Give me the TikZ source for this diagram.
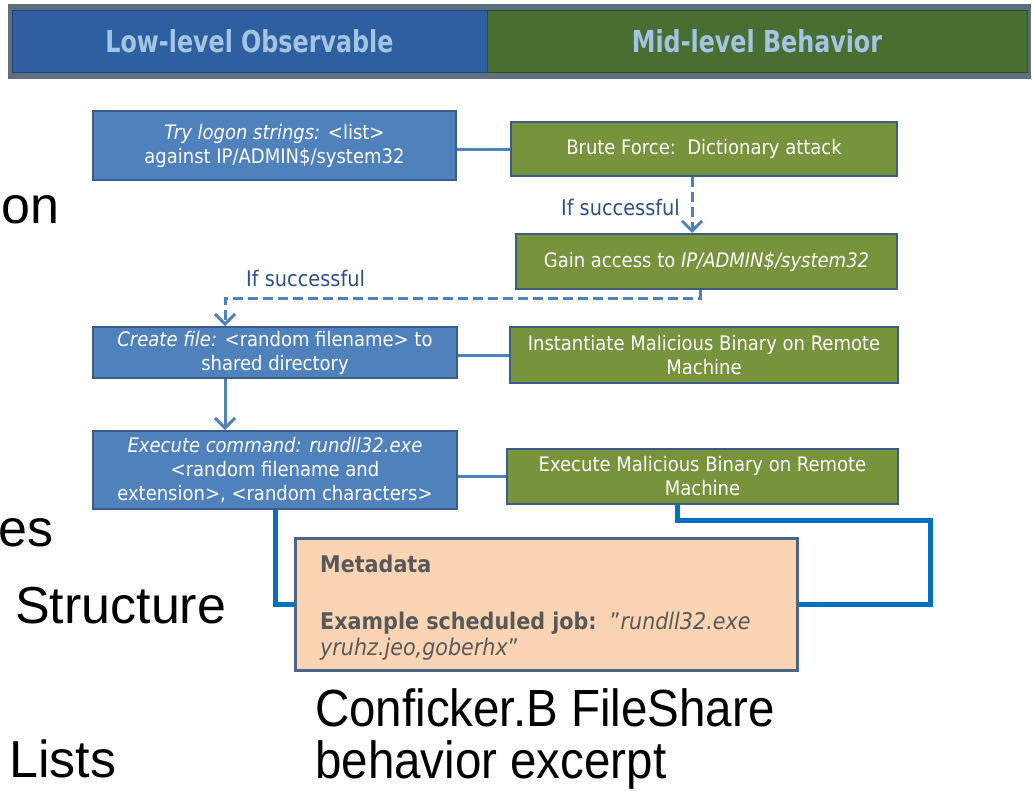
\documentclass[tikz,border=0pt]{standalone}
\usepackage{fontspec}
\setmainfont{DejaVu Sans Condensed}
\newfontfamily\slidefont{Liberation Sans}
\usetikzlibrary{arrows.meta,calc}

\definecolor{hdrblue}{HTML}{2E60A1}
\definecolor{hdrgreen}{HTML}{486E32}
\definecolor{hdrframe}{HTML}{5E6F80}
\definecolor{hdrtext}{HTML}{A3C5E3}
\definecolor{obsfill}{HTML}{4F81BD}
\definecolor{obsedge}{HTML}{385D8A}
\definecolor{behfill}{HTML}{77933C}
\definecolor{behedge}{HTML}{3C5E86}
\definecolor{linkblue}{HTML}{4F81BD}
\definecolor{flowblue}{HTML}{0070C0}
\definecolor{metafill}{HTML}{FBD4B4}
\definecolor{metaedge}{HTML}{4A6586}
\definecolor{metatext}{HTML}{595959}
\definecolor{labeltext}{HTML}{2C5087}

\newcommand{\dq}{\symbol{"22}}

\tikzset{
  obsbox/.style={draw=obsedge, line width=2pt, fill=obsfill, text=white,
    inner sep=0pt, align=center, font=\fontsize{20}{24}\selectfont},
  behbox/.style={draw=behedge, line width=2pt, fill=behfill, text=white,
    inner sep=0pt, align=center, font=\fontsize{20}{24}\selectfont},
  hdrcell/.style={inner sep=0pt, text=hdrtext,
    font=\fontsize{27}{30}\selectfont\bfseries},
  link/.style={draw=linkblue, line width=3pt},
  dashlink/.style={draw=linkblue, line width=3pt, dash pattern=on 10pt off 5pt,
    -{Straight Barb[length=10pt,width=20pt,line width=3pt]}},
  solidarrow/.style={draw=linkblue, line width=3pt,
    -{Straight Barb[length=10pt,width=20pt,line width=3pt]}},
  flowline/.style={draw=flowblue, line width=5pt},
  condlabel/.style={text=labeltext, inner sep=0pt, font=\fontsize{21.5}{24}\selectfont},
  slidetext/.style={inner sep=0pt, anchor=base west, font=\slidefont\fontsize{52}{56}\selectfont},
  captext/.style={inner sep=0pt, anchor=base west, font=\slidefont\fontsize{47.5}{50}\selectfont},
  metaline/.style={inner sep=0pt, anchor=base west, text=metatext,
    font=\fontsize{23}{27}\selectfont},
}

\begin{document}
\begin{tikzpicture}[x=1pt, y=-1pt]
\useasboundingbox (0,0) rectangle (1032,790);
\clip (0,0) rectangle (1032,790);

% header bar
\node[draw=hdrframe, fill=hdrframe, line width=1pt, minimum width=1022pt, minimum height=74pt, inner sep=0pt]
  (hdr) at (519,41) {};
\node[hdrcell, fill=hdrblue, draw=hdrblue!70!black, line width=1pt, minimum width=475pt, minimum height=62pt]
  (hdrL) at (249.5,41) {\scalebox{0.98}[1.12]{Low-level Observable}};
\node[hdrcell, fill=hdrgreen, draw=hdrgreen!70!black, line width=1pt, minimum width=540pt, minimum height=62pt]
  (hdrR) at (757,41) {\scalebox{0.98}[1.12]{Mid-level Behavior}};

% observable boxes (left column)
\node[obsbox, minimum width=363pt, minimum height=69pt] (logon) at (274.5,145.5)
  {\textit{Try logon strings:} <list>\\against IP/ADMIN\$/system32};
\node[obsbox, minimum width=364pt, minimum height=51pt] (create) at (275,352.5)
  {\textit{Create file:} <random filename> to\\shared directory};
\node[obsbox, minimum width=364pt, minimum height=78pt] (exec) at (275,470)
  {\textit{Execute command: rundll32.exe}\\<random filename and\\extension>, <random characters>};

% behaviour boxes (right column)
\node[behbox, minimum width=386pt, minimum height=54pt] (brute) at (704,149)
  {Brute Force:\ \ Dictionary attack};
\node[behbox, minimum width=381pt, minimum height=55pt] (access) at (706.5,261.5)
  {Gain access to \textit{IP/ADMIN\$/system32}};
\node[behbox, minimum width=388pt, minimum height=56pt] (inst) at (704,355)
  {Instantiate Malicious Binary on Remote\\Machine};
\node[behbox, minimum width=391pt, minimum height=55pt] (run) at (702.5,476.5)
  {Execute Malicious Binary on Remote\\Machine};

% metadata box
\node[draw=metaedge, line width=3pt, fill=metafill, minimum width=502pt, minimum height=132pt, inner sep=0pt]
  (meta) at (546,604) {};
\node[metaline, font=\fontsize{23}{27}\selectfont\bfseries] (metahead) at (320,572) {Metadata};
\node[metaline] (metajob) at (320,629)
  {\textbf{Example scheduled job:}\ \ \dq\textit{rundll32.exe}};
\node[metaline] (metajob2) at (320,655) {\textit{yruhz.jeo,goberhx}\dq};

% pairings between columns
\draw[link] (brute.west) -- (brute.west -| logon.east);
\draw[link] (inst.west) -- (inst.west -| create.east);
\draw[link] (run.west) -- (run.west -| exec.east);

% conditional transitions
\draw[dashlink] ([xshift=-12pt]brute.south) -- ([xshift=-12pt]brute.south |- access.north);
\node[condlabel, anchor=base east] (cond1) at (680,215) {If successful};
\coordinate (bend) at (700,298);
\draw[dashlink] ([xshift=-6.5pt]access.south) |- (bend) -| ([xshift=-50pt]create.north);
\node[condlabel, anchor=base west] (cond2) at (246,286) {If successful};
\draw[solidarrow] ([xshift=-50pt]create.south) -- ([xshift=-50pt]exec.north);

% links to the metadata
\coordinate (rturn) at (930,520);
\draw[flowline] (exec.south) |- (meta.west);
\draw[flowline] ([xshift=-25.5pt]run.south) |- (rturn) |- (meta.east);

% slide text around the figure
\node[slidetext] (w1) at (1,223) {on};
\node[slidetext] (w2) at (-2,546) {es};
\node[slidetext] (w3) at (15,623) {Structure};
\node[slidetext] (w4) at (9,777) {Lists};
\node[captext] (cap1) at (315,726) {\scalebox{1}[1.1]{Conficker.B FileShare}};
\node[captext] (cap2) at (315,778) {\scalebox{1}[1.1]{behavior excerpt}};
\end{tikzpicture}
\end{document}
